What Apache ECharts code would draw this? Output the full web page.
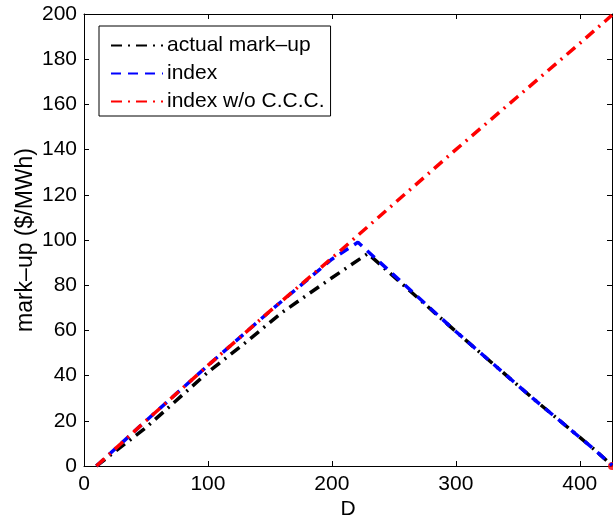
<!DOCTYPE html>
<html>
<head>
<meta charset="utf-8">
<script src="https://cdn.jsdelivr.net/npm/echarts@6/dist/echarts.min.js"></script>
<style>html,body{margin:0;padding:0;background:#fff}#c{width:613px;height:525px}</style>
</head>
<body>
<div id="c"></div>
<script>
// Data
const actualX = [10, 50, 100, 130, 160, 190, 210, 229, 300, 362, 412, 426];
const actualY = [0, 17, 41.5, 54.5, 68, 79.5, 87, 94, 59.5, 30, 7.2, 0.3];
const indexX = [10, 50, 100, 150, 200, 221, 300, 362, 412, 426];
const indexY = [0, 20, 44.5, 68.5, 91.5, 99, 59.5, 30, 7.2, 0.3];
const noCccX = [10, 50, 100, 150, 200, 250, 300, 350, 400, 426];
const noCccY = [0, 20, 44.5, 68.5, 92, 116, 140, 163.5, 187, 199.5];
const endPoint = [[426, 0]];
const xTicks = [0, 100, 200, 300, 400];
const yTicks = [0, 20, 40, 60, 80, 100, 120, 140, 160, 180, 200];
const seriesNames = ['actual mark\u2013up', 'index', 'index w/o C.C.C.'];

const zip = (xs, ys) => xs.map((x, i) => [x, ys[i]]);
const font = '"Liberation Sans", Arial, Helvetica, sans-serif';
const chart = echarts.init(document.getElementById('c'), null, {renderer: 'canvas'});

const axisCommon = {
  axisLine: {show: true, onZero: false, lineStyle: {color: '#000', width: 1}},
  axisTick: {show: true, inside: true, length: 5, lineStyle: {color: '#000'}},
  splitLine: {show: false}
};

chart.setOption({
  animation: false,
  backgroundColor: '#fff',
  grid: {left: 84, top: 14, right: 1, bottom: 57, containLabel: false},
  legend: {
    left: 99, top: 26, orient: 'vertical',
    data: seriesNames,
    itemWidth: 52, itemHeight: 14, itemGap: 7,
    padding: [9, 6, 4, 11],
    borderColor: '#000', borderWidth: 1, backgroundColor: '#fff',
    itemStyle: {opacity: 0},
    textStyle: {fontFamily: font, fontSize: 21, color: '#000', lineHeight: 20, padding: [0, 0, 0, -1]}
  },
  xAxis: [
    Object.assign({
      type: 'value', min: 0, max: 426, interval: 100, position: 'bottom',
      name: 'D', nameLocation: 'middle', nameGap: 33, nameMoveOverlap: false,
      nameTextStyle: {fontFamily: font, fontSize: 21, color: '#000'},
      axisLabel: {fontFamily: font, fontSize: 21, color: '#000', margin: 8, showMaxLabel: false,
        formatter: v => xTicks.includes(v) ? String(v) : ''}
    }, axisCommon),
    Object.assign({
      type: 'value', min: 0, max: 426, interval: 100, position: 'top',
      axisLabel: {show: false}
    }, axisCommon)
  ],
  yAxis: [
    Object.assign({
      type: 'value', min: 0, max: 200, interval: 20, position: 'left',
      name: 'mark\u2013up ($/MWh)', nameLocation: 'middle', nameGap: 47, nameRotate: 90,
      nameMoveOverlap: false,
      nameTextStyle: {fontFamily: font, fontSize: 23, color: '#000'},
      axisLabel: {fontFamily: font, fontSize: 21, color: '#000', margin: 7,
        formatter: v => yTicks.includes(v) ? String(v) : ''}
    }, axisCommon),
    Object.assign({
      type: 'value', min: 0, max: 200, interval: 20, position: 'right',
      axisLabel: {show: false}
    }, axisCommon)
  ],
  series: [
    {
      name: seriesNames[0], type: 'line', data: zip(actualX, actualY),
      symbol: 'none', clip: true,
      lineStyle: {color: '#000', width: 3.5, type: [11, 6, 2, 6]},
      itemStyle: {color: '#000'}
    },
    {
      name: seriesNames[1], type: 'line', data: zip(indexX, indexY),
      symbol: 'none', clip: true,
      lineStyle: {color: '#0000ff', width: 3.5, type: [10, 7]},
      itemStyle: {color: '#0000ff'}
    },
    {
      name: seriesNames[2], type: 'line', data: zip(noCccX, noCccY),
      symbol: 'none', clip: true,
      lineStyle: {color: '#ff0000', width: 3.5, type: [11, 6, 2, 6]},
      itemStyle: {color: '#ff0000'}
    },
    {
      name: 'end', type: 'scatter', data: endPoint, symbol: 'circle', symbolSize: 8,
      itemStyle: {color: '#ff0000'}, clip: true, silent: true, z: 1
    }
  ]
});
</script>
</body>
</html>
